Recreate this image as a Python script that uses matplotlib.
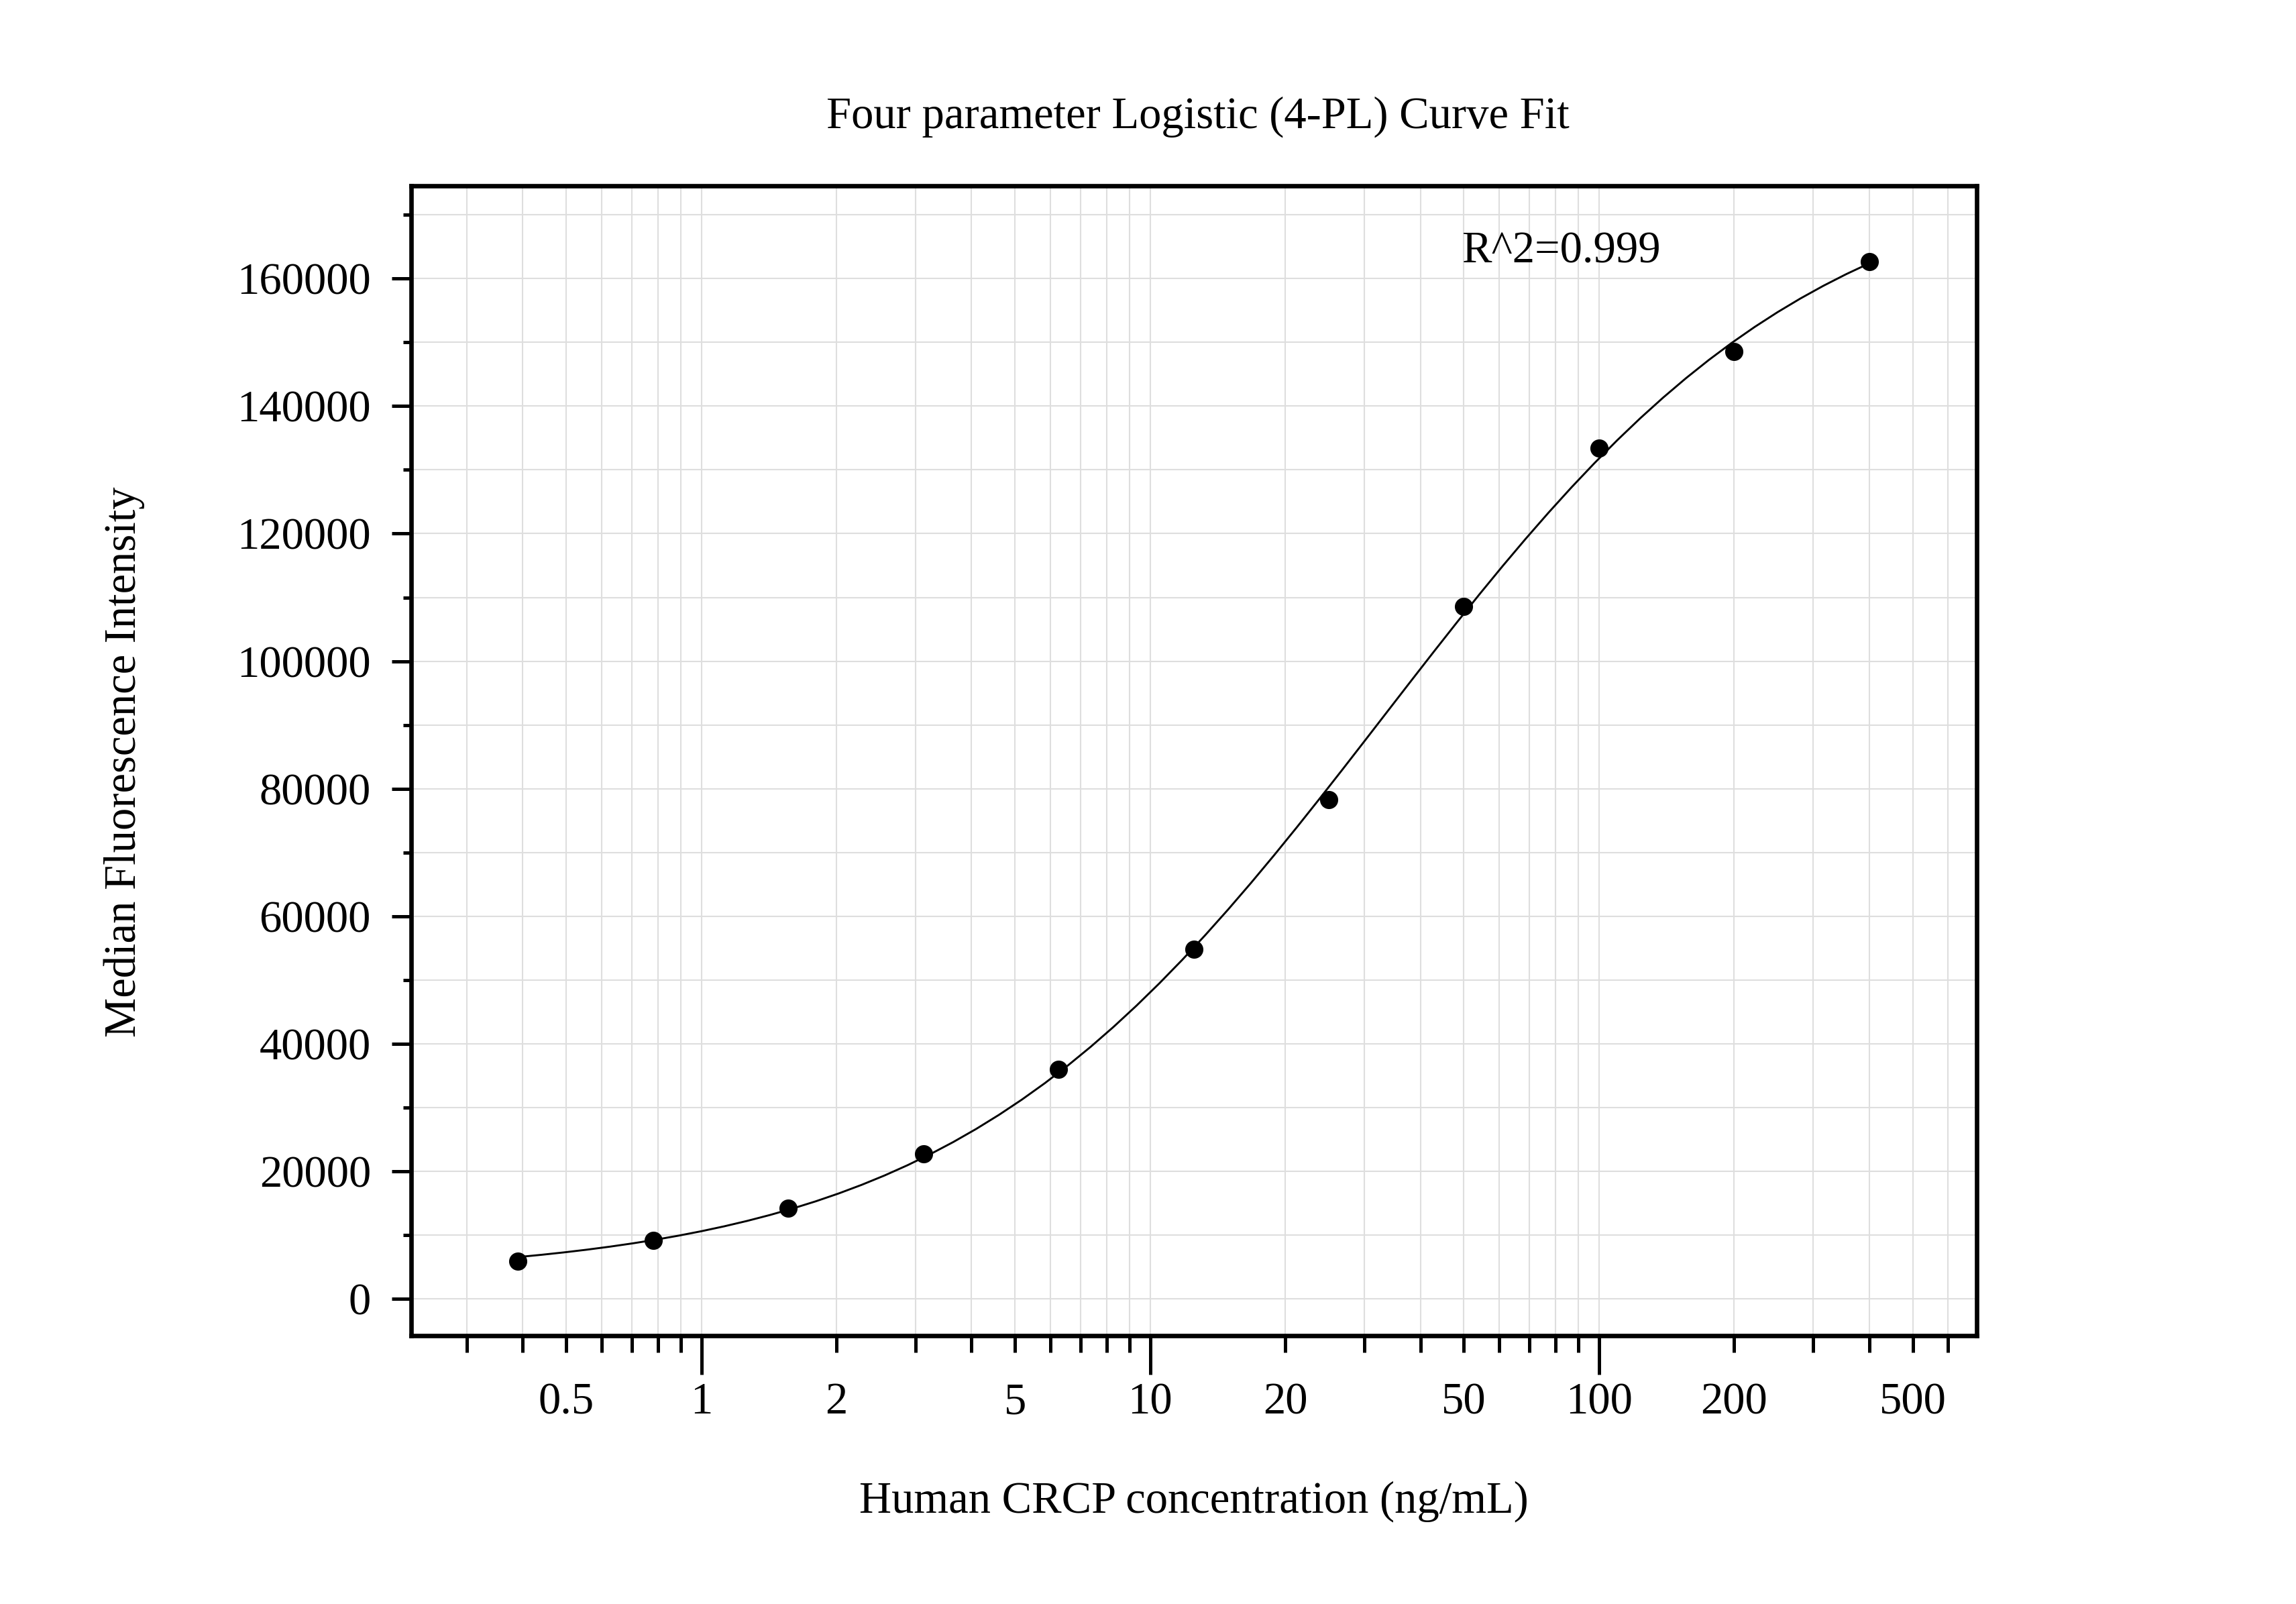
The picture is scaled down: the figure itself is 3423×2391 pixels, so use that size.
import numpy as np
from matplotlib import pyplot as plt
from matplotlib import ticker

plt.rcParams['font.family'] = ['Liberation Serif', 'DejaVu Serif']

# standards (ng/mL) and measured MFI
conc = [0.390625, 0.78125, 1.5625, 3.125, 6.25, 12.5, 25, 50, 100, 200, 400]
mfi = [5970, 9180, 14240, 22730, 36050, 54880, 78300, 108600, 133400, 148600, 162600]

x_ticks = [0.5, 1, 2, 5, 10, 20, 50, 100, 200, 500]
x_tick_labels = ['0.5', '1', '2', '5', '10', '20', '50', '100', '200', '500']
y_ticks = [0, 20000, 40000, 60000, 80000, 100000, 120000, 140000, 160000]

title = 'Four parameter Logistic (4-PL) Curve Fit'
x_label = 'Human CRCP concentration (ng/mL)'
y_label = 'Median Fluorescence Intensity'
r2_text = 'R^2=0.999'

# 4PL fit: y = D + (A - D) / (1 + (x/C)^B)
# grid over B, C; A and D by linear least squares
xd = np.array(conc, dtype=float)
yd = np.array(mfi, dtype=float)
best = None
for b in np.linspace(0.4, 2.0, 161):
    for c in np.logspace(0, 3, 301):
        s = 1.0 / (1.0 + (xd / c) ** b)
        m = np.column_stack([s, 1 - s])
        coef, *_ = np.linalg.lstsq(m, yd, rcond=None)
        err = np.sum((m @ coef - yd) ** 2)
        if best is None or err < best[0]:
            best = (err, b, c, coef[0], coef[1])
_, B, C, A, D = best

xf = np.logspace(np.log10(conc[0]), np.log10(conc[-1]), 60)
yf = D + (A - D) / (1 + (xf / C) ** B)

fig = plt.figure(figsize=(11.41, 7.97), dpi=300)
ax = fig.add_axes([0.1792, 0.1671, 0.6818, 0.7169])

ax.plot(xf, yf, color='black', linewidth=0.7, zorder=3)
ax.plot(conc, mfi, 'o', color='black', markersize=5.5, zorder=4)

ax.set_xscale('log')
ax.set_xlim(0.226, 695)
ax.set_ylim(-5800, 174500)

ax.xaxis.set_major_locator(ticker.FixedLocator([1, 10, 100]))
ax.xaxis.set_minor_locator(ticker.LogLocator(base=10, subs=np.arange(2, 10)))
ax.xaxis.set_major_formatter(ticker.NullFormatter())
ax.xaxis.set_minor_formatter(ticker.NullFormatter())
for v, s in zip(x_ticks, x_tick_labels):
    ax.text(v, -0.04, s, transform=ax.get_xaxis_transform(), ha='center', va='top', fontsize=16)

ax.set_yticks(y_ticks)
ax.yaxis.set_minor_locator(ticker.MultipleLocator(10000))
ax.set_yticklabels([str(v) for v in y_ticks], fontsize=16)

ax.tick_params(axis='x', which='major', direction='out', length=14, width=1.2)
ax.tick_params(axis='x', which='minor', direction='out', length=6, width=1.2)
ax.tick_params(axis='y', which='major', direction='out', length=7, width=1.2, pad=7.5)
ax.tick_params(axis='y', which='minor', direction='out', length=3, width=1.2)

ax.grid(True, which='both', color='#dedede', linewidth=0.5, zorder=0)
ax.set_axisbelow(True)
for sp in ax.spines.values():
    sp.set_linewidth(1.6)

ax.text(49.4, 164200, r2_text, ha='left', va='center', fontsize=16)

fig.text(0.5217, 0.927, title, ha='center', va='center', fontsize=16)
fig.text(0.520, 0.064, x_label, ha='center', va='center', fontsize=16)
fig.text(0.0542, 0.525, y_label, ha='center', va='center', rotation=90, fontsize=16)

fig.savefig('out.png', dpi=300)
